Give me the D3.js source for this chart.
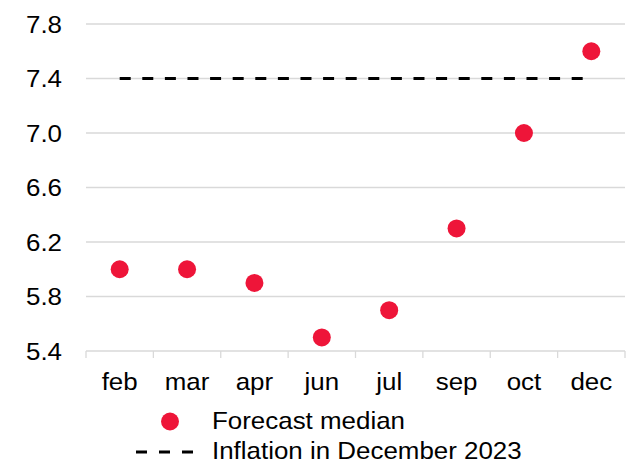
<!DOCTYPE html>
<html>
<head>
<meta charset="utf-8">
<script src="https://cdn.jsdelivr.net/npm/d3@7"></script>
<style>
  html, body { margin: 0; padding: 0; background: #fff; }
  svg text { font-family: "Liberation Sans", Arial, sans-serif; fill: #000; }
</style>
</head>
<body>
<svg id="chart" width="628" height="464"></svg>
<script>
// Monthly forecast medians and the December 2023 inflation reference
const months = ["feb", "mar", "apr", "jun", "jul", "sep", "oct", "dec"];
const forecastMedian = [6.0, 6.0, 5.9, 5.5, 5.7, 6.3, 7.0, 7.6];
const inflationDec2023 = 7.4;
const yTicks = [5.4, 5.8, 6.2, 6.6, 7.0, 7.4, 7.8];
const legendLabels = ["Forecast median", "Inflation in December 2023"];

const red = "#EE1539";
const grid = "#d9d9d9";
const fontSize = 24;
const stretchX = 1.08;

const svg = d3.select("#chart");
const plot = { left: 86, right: 625, top: 24, bottom: 351 };

const x = d3.scaleBand().domain(months).range([plot.left, plot.right]);
const y = d3.scaleLinear().domain([5.4, 7.8]).range([plot.bottom, plot.top]);

// Text helper: slightly widened glyphs anchored at (px, py)
function stretched(sel, px, py) {
  sel.attr("x", null).attr("y", null).attr("dy", null)
    .attr("transform", `translate(${px},${py}) scale(${stretchX},1)`);
}

// Horizontal gridlines
svg.append("g")
  .selectAll("line")
  .data(yTicks.slice(1))
  .join("line")
  .attr("x1", plot.left).attr("x2", plot.right)
  .attr("y1", d => y(d)).attr("y2", d => y(d))
  .attr("stroke", grid).attr("stroke-width", 1.3);

// Y axis labels
const yAxis = d3.axisLeft(y).tickValues(yTicks).tickFormat(d3.format(".1f")).tickSize(0).tickPadding(0);
const gy = svg.append("g").call(yAxis);
gy.select(".domain").remove();
gy.selectAll(".tick").attr("transform", null);
gy.selectAll(".tick text")
  .attr("font-size", fontSize)
  .attr("font-family", "Liberation Sans, Arial, sans-serif")
  .attr("fill", "#000")
  .attr("text-anchor", "end")
  .each(function(d) { stretched(d3.select(this), 62, y(d) + 8.5); });

// X axis with category dividers
const xAxis = d3.axisBottom(x).tickSize(0).tickPadding(0);
const gx = svg.append("g").attr("transform", `translate(0,${plot.bottom})`).call(xAxis);
gx.select(".domain").attr("stroke", grid).attr("stroke-width", 1.3)
  .attr("d", `M${plot.left},0H${plot.right}`);
gx.selectAll(".tick").attr("transform", null);
gx.selectAll(".tick text")
  .attr("font-size", fontSize)
  .attr("font-family", "Liberation Sans, Arial, sans-serif")
  .attr("fill", "#000")
  .attr("text-anchor", "middle")
  .each(function(d) { stretched(d3.select(this), x(d) + x.bandwidth() / 2, 38.5); });
const dividers = months.map(m => x(m)).concat([plot.right]);
gx.selectAll(".divider")
  .data(dividers)
  .join("line")
  .attr("class", "divider")
  .attr("x1", d => d).attr("x2", d => d)
  .attr("y1", 0).attr("y2", 7)
  .attr("stroke", grid).attr("stroke-width", 1.3);

// Dashed reference line
const cx = m => x(m) + x.bandwidth() / 2;
svg.append("line")
  .attr("x1", cx(months[0])).attr("x2", cx(months[months.length - 1]) - 4)
  .attr("y1", y(inflationDec2023)).attr("y2", y(inflationDec2023))
  .attr("stroke", "#000").attr("stroke-width", 3)
  .attr("stroke-dasharray", "11,11.6");

// Forecast points
svg.append("g")
  .selectAll("circle")
  .data(months.map((m, i) => ({ m, v: forecastMedian[i] })))
  .join("circle")
  .attr("cx", d => cx(d.m))
  .attr("cy", d => y(d.v))
  .attr("r", 9)
  .attr("fill", red);

// Legend
const legend = svg.append("g");
legend.append("circle").attr("cx", 170).attr("cy", 421.5).attr("r", 9).attr("fill", red);
legend.append("line")
  .attr("x1", 136).attr("x2", 193).attr("y1", 452).attr("y2", 452)
  .attr("stroke", "#000").attr("stroke-width", 3)
  .attr("stroke-dasharray", "11,12");
legend.selectAll("text")
  .data(legendLabels)
  .join("text")
  .attr("font-size", fontSize)
  .text(d => d)
  .each(function(d, i) { stretched(d3.select(this), 212, 429 + i * 30); });
</script>
</body>
</html>
